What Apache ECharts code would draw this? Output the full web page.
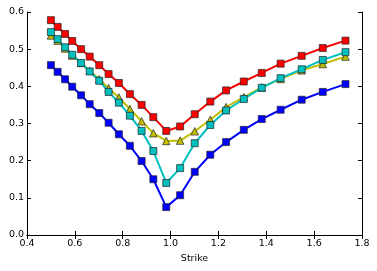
<!DOCTYPE html>
<html><head><meta charset="utf-8">
<script src="https://cdn.jsdelivr.net/npm/echarts@6/dist/echarts.min.js"></script>
<style>html,body{margin:0;padding:0;background:#fff}#c{width:377px;height:271px}</style>
</head><body><div id="c"></div>
<script>
const strikes = [0.500,0.528,0.559,0.589,0.626,0.662,0.702,0.741,0.784,0.830,0.879,0.928,0.982,1.040,1.101,1.166,1.232,1.306,1.381,1.460,1.548,1.636,1.731];
const red    = [0.578,0.560,0.541,0.522,0.500,0.480,0.457,0.433,0.409,0.379,0.350,0.317,0.280,0.292,0.325,0.359,0.389,0.413,0.436,0.461,0.482,0.503,0.523];
const yellow = [0.537,0.523,0.502,0.483,0.463,0.442,0.419,0.395,0.370,0.339,0.306,0.274,0.253,0.254,0.279,0.310,0.344,0.371,0.397,0.420,0.443,0.460,0.480];
const cyan   = [0.546,0.527,0.505,0.485,0.463,0.440,0.415,0.385,0.356,0.321,0.280,0.226,0.140,0.180,0.247,0.296,0.335,0.366,0.396,0.422,0.446,0.471,0.492];
const blue   = [0.457,0.439,0.419,0.399,0.376,0.352,0.328,0.302,0.271,0.240,0.199,0.150,0.075,0.107,0.170,0.216,0.250,0.283,0.312,0.337,0.364,0.385,0.406];
const xLabel = 'Strike';

function pairs(ys){ return strikes.map((x,i)=>[x,ys[i]]); }
const font = 'DejaVu Sans';
const fs = 9.5;
function ser(name, ys, color, symbol, size, z){
  return {name, type:'line', data:pairs(ys), xAxisIndex:0, yAxisIndex:0,
    lineStyle:{color, width:2}, itemStyle:{color, borderColor:'#222', borderWidth:0.7},
    symbol, symbolSize:size, showSymbol:true, z, animation:false};
}
const chart = echarts.init(document.getElementById('c'));
const tick = {show:true, inside:true, length:4, lineStyle:{color:'#000', width:1}};
const line = {show:true, lineStyle:{color:'#000', width:1}};
chart.setOption({
  animation:false,
  grid:{left:27, right:15, top:12, bottom:36, containLabel:false},
  xAxis:[
    {type:'value', min:0.4, max:1.8, interval:0.2, position:'bottom',
     axisLine:line, axisTick:tick, splitLine:{show:false},
     axisLabel:{color:'#000', fontFamily:font, fontSize:fs, margin:4, formatter:v=>v.toFixed(1)},
     name:xLabel, nameLocation:'middle', nameGap:19, nameTextStyle:{color:'#000', fontFamily:font, fontSize:fs}},
    {type:'value', min:0.4, max:1.8, interval:0.2, position:'top',
     axisLine:line, axisTick:tick, splitLine:{show:false}, axisLabel:{show:false}}
  ],
  yAxis:[
    {type:'value', min:0, max:0.6, interval:0.1, position:'left',
     axisLine:line, axisTick:tick, splitLine:{show:false},
     axisLabel:{color:'#000', fontFamily:font, fontSize:fs, margin:3, formatter:v=>v.toFixed(1)}},
    {type:'value', min:0, max:0.6, interval:0.1, position:'right',
     axisLine:line, axisTick:tick, splitLine:{show:false}, axisLabel:{show:false}}
  ],
  series:[
    ser('red', red, '#ff0000', 'rect', 7, 2),
    ser('yellow', yellow, '#bfbf00', 'triangle', 7.5, 3),
    ser('cyan', cyan, '#00bfbf', 'rect', 7, 4),
    ser('blue', blue, '#0000ff', 'rect', 7, 5)
  ]
});
</script></body></html>
